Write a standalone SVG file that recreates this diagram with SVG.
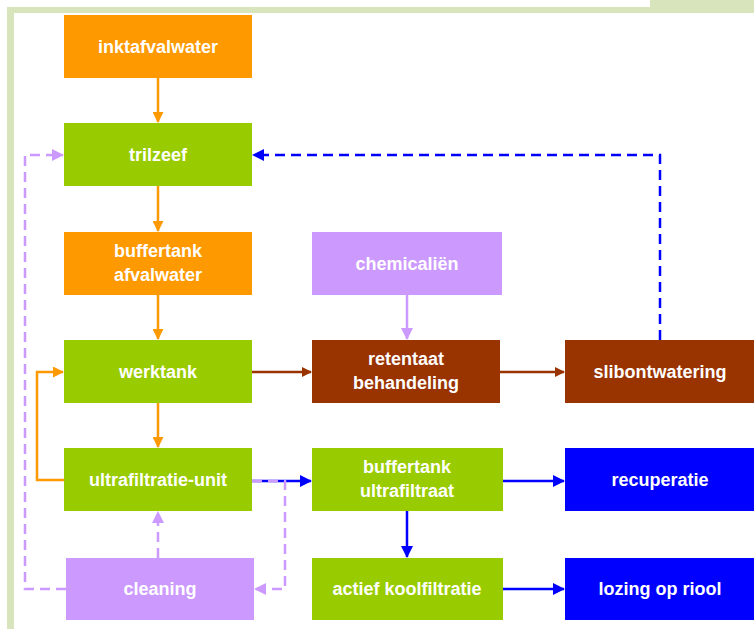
<svg xmlns="http://www.w3.org/2000/svg" width="754" height="629" viewBox="0 0 754 629">
<style>
.lbl{font-family:"Liberation Sans",Arial,sans-serif;font-weight:bold;font-size:18px;fill:#fff;text-anchor:middle}
.or{fill:#FF9900}.gr{fill:#99CC00}.pu{fill:#CC99FF}.br{fill:#993300}.bl{fill:#0000FF}
.c{fill:none;stroke-width:2.5}
.co{stroke:#FF9900}.cb{stroke:#993300}.cbl{stroke:#0000FF}.cp{stroke:#CC99FF}
.d{stroke-dasharray:10 6}
</style>
<defs>
<marker id="ao" markerWidth="11" markerHeight="11" refX="10" refY="5.5" orient="auto" markerUnits="userSpaceOnUse"><path d="M0,0L11,5.5L0,11z" fill="#FF9900"/></marker>
<marker id="ab" markerWidth="10" markerHeight="10" refX="9" refY="5" orient="auto" markerUnits="userSpaceOnUse"><path d="M0,0L10,5L0,10z" fill="#993300"/></marker>
<marker id="abl" markerWidth="12" markerHeight="12" refX="11" refY="6" orient="auto" markerUnits="userSpaceOnUse"><path d="M0,0L12,6L0,12z" fill="#0000FF"/></marker>
<marker id="ap" markerWidth="12" markerHeight="12" refX="11" refY="6" orient="auto" markerUnits="userSpaceOnUse"><path d="M0,0L12,6L0,12z" fill="#CC99FF"/></marker>
</defs>
<g id="frame" fill="#D8E4BC">
<rect x="7" y="7" width="747" height="6"/>
<rect x="650" y="0" width="104" height="8"/>
<rect x="7" y="7" width="7" height="622"/>
</g>
<g id="connectors">
<line class="c co" x1="158" y1="78" x2="158" y2="122" marker-end="url(#ao)"/>
<line class="c co" x1="158" y1="186" x2="158" y2="231" marker-end="url(#ao)"/>
<line class="c co" x1="158" y1="295" x2="158" y2="339" marker-end="url(#ao)"/>
<line class="c co" x1="158" y1="403" x2="158" y2="447" marker-end="url(#ao)"/>
<polyline class="c co" points="64,480 37,480 37,372 63,372" marker-end="url(#ao)"/>
<line class="c cb" x1="252" y1="372" x2="311" y2="372" marker-end="url(#ab)"/>
<line class="c cb" x1="500" y1="372" x2="564" y2="372" marker-end="url(#ab)"/>
<line class="c cp" x1="407" y1="295" x2="407" y2="339" marker-end="url(#ap)"/>
<polyline class="c cbl d" points="660,340 660,155 253,155" marker-end="url(#abl)"/>
<line class="c cbl" x1="252" y1="481" x2="311" y2="481" marker-end="url(#abl)"/>
<line class="c cbl" x1="503" y1="481" x2="564" y2="481" marker-end="url(#abl)"/>
<line class="c cbl" x1="407" y1="511" x2="407" y2="557" marker-end="url(#abl)"/>
<line class="c cbl" x1="503" y1="589" x2="564" y2="589" marker-end="url(#abl)"/>
<polyline class="c cp d" points="252,481 285,481 285,589 255,589" marker-end="url(#ap)"/>
<line class="c cp d" x1="158" y1="558" x2="158" y2="512" marker-end="url(#ap)"/>
<polyline class="c cp d" points="66,589 25,589 25,155 63,155" marker-end="url(#ap)"/>
</g>
<g id="inktafvalwater"><rect class="or" x="64" y="15" width="188" height="63"/><text class="lbl" x="158" y="53">inktafvalwater</text></g>
<g id="trilzeef"><rect class="gr" x="64" y="123" width="188" height="63"/><text class="lbl" x="158" y="161">trilzeef</text></g>
<g id="buffertank-afvalwater"><rect class="or" x="64" y="232" width="188" height="63"/><text class="lbl" x="158" y="257">buffertank</text><text class="lbl" x="158" y="281">afvalwater</text></g>
<g id="werktank"><rect class="gr" x="64" y="340" width="188" height="63"/><text class="lbl" x="158" y="378">werktank</text></g>
<g id="ultrafiltratie-unit"><rect class="gr" x="64" y="448" width="188" height="63"/><text class="lbl" x="158" y="486">ultrafiltratie-unit</text></g>
<g id="cleaning"><rect class="pu" x="66" y="558" width="188" height="62"/><text class="lbl" x="160" y="595">cleaning</text></g>
<g id="chemicalien"><rect class="pu" x="312" y="232" width="190" height="63"/><text class="lbl" x="407" y="270">chemicaliën</text></g>
<g id="retentaat-behandeling"><rect class="br" x="312" y="340" width="188" height="63"/><text class="lbl" x="406" y="365">retentaat</text><text class="lbl" x="406" y="389">behandeling</text></g>
<g id="slibontwatering"><rect class="br" x="565" y="340" width="189" height="63"/><text class="lbl" x="660" y="378">slibontwatering</text></g>
<g id="buffertank-ultrafiltraat"><rect class="gr" x="312" y="448" width="191" height="63"/><text class="lbl" x="407" y="473">buffertank</text><text class="lbl" x="407" y="497">ultrafiltraat</text></g>
<g id="recuperatie"><rect class="bl" x="565" y="448" width="189" height="63"/><text class="lbl" x="660" y="486">recuperatie</text></g>
<g id="actief-koolfiltratie"><rect class="gr" x="312" y="558" width="191" height="62"/><text class="lbl" x="407" y="595">actief koolfiltratie</text></g>
<g id="lozing-op-riool"><rect class="bl" x="565" y="558" width="189" height="62"/><text class="lbl" x="660" y="595">lozing op riool</text></g>
</svg>
